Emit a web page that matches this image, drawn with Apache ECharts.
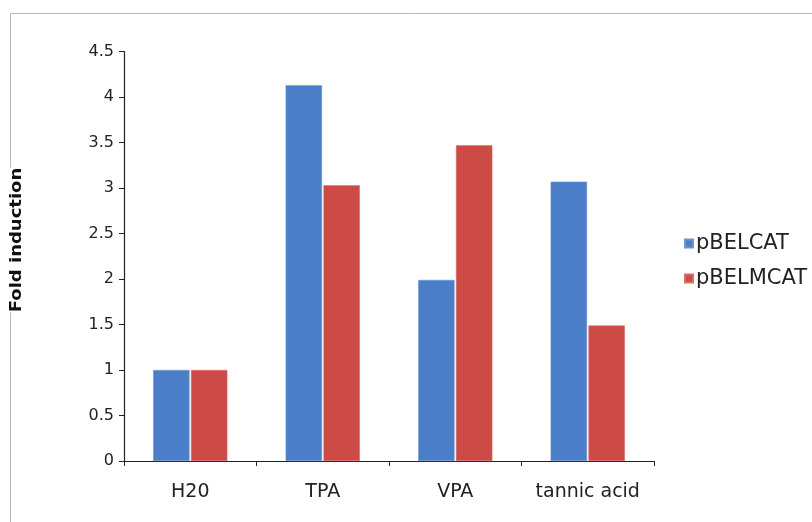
<!DOCTYPE html>
<html>
<head>
<meta charset="utf-8">
<script src="https://cdn.jsdelivr.net/npm/echarts@6/dist/echarts.min.js"></script>
<style>
  html, body { margin: 0; padding: 0; background: #fff; }
  #chart { width: 812px; height: 522px; }
</style>
</head>
<body>
<div id="chart"></div>
<script>
// Treatments on the x axis
const categories = ['H20', 'TPA', 'VPA', 'tannic acid'];
// Fold induction per construct
const pBELCAT = [1.0, 4.13, 1.99, 3.07];
const pBELMCAT = [1.0, 3.03, 3.47, 1.49];
const yTicks = { min: 0, max: 4.5, interval: 0.5 };
const yTitle = 'Fold induction';

const font = '"DejaVu Sans", "Open Sans", sans-serif';
const chart = echarts.init(document.getElementById('chart'), null, { renderer: 'canvas' });

chart.setOption({
  animation: false,
  backgroundColor: '#ffffff',
  graphic: [
    {
      type: 'rect',
      shape: { x: 10.5, y: 13.5, width: 900, height: 600 },
      style: { fill: 'none', stroke: '#b8b8b8', lineWidth: 1 },
      silent: true,
      z: 0
    },
    {
      // y-axis title, drawn vertically at the left edge
      type: 'text',
      x: 17,
      y: 240,
      rotation: Math.PI / 2,
      scaleX: 1.2,
      style: {
        text: yTitle,
        fontFamily: font,
        fontSize: 15,
        fontWeight: 'bold',
        fill: '#111',
        align: 'center',
        verticalAlign: 'middle',
        backgroundColor: '#fff'
      },
      z: 10
    }
  ],
  grid: { left: 124, top: 51.5, width: 530, height: 409.5, containLabel: false },
  legend: {
    orient: 'vertical',
    left: 679,
    top: 228,
    itemWidth: 8,
    itemHeight: 8,
    itemGap: 14,
    icon: 'rect',
    textStyle: { fontFamily: font, fontSize: 21, color: '#222', padding: [0, 0, 0, -2] },
    data: ['pBELCAT', 'pBELMCAT']
  },
  xAxis: {
    type: 'category',
    data: categories,
    axisLine: { lineStyle: { color: '#222', width: 1.2 } },
    axisTick: { show: true, inside: false, length: 5, interval: 0, alignWithLabel: false, lineStyle: { color: '#222' } },
    axisLabel: { fontFamily: font, fontSize: 19, color: '#222', margin: 22, interval: 0, hideOverlap: false },
    splitLine: { show: false }
  },
  yAxis: {
    type: 'value',
    min: yTicks.min,
    max: yTicks.max,
    interval: yTicks.interval,
    axisLine: { show: true, lineStyle: { color: '#222', width: 1.2 } },
    axisTick: { show: true, inside: false, length: 5, lineStyle: { color: '#222' } },
    axisLabel: { fontFamily: font, fontSize: 16, color: '#222', margin: 10 },
    splitLine: { show: false }
  },
  series: [
    {
      name: 'pBELCAT',
      type: 'bar',
      data: pBELCAT,
      barGap: '4%',
      barCategoryGap: '44%',
      itemStyle: { color: '#4a7ec8', borderColor: '#6f96d2', borderWidth: 0.5 }
    },
    {
      name: 'pBELMCAT',
      type: 'bar',
      data: pBELMCAT,
      barGap: '4%',
      barCategoryGap: '44%',
      itemStyle: { color: '#cc4b47', borderColor: '#d86d6a', borderWidth: 0.5 }
    }
  ]
});
</script>
</body>
</html>
